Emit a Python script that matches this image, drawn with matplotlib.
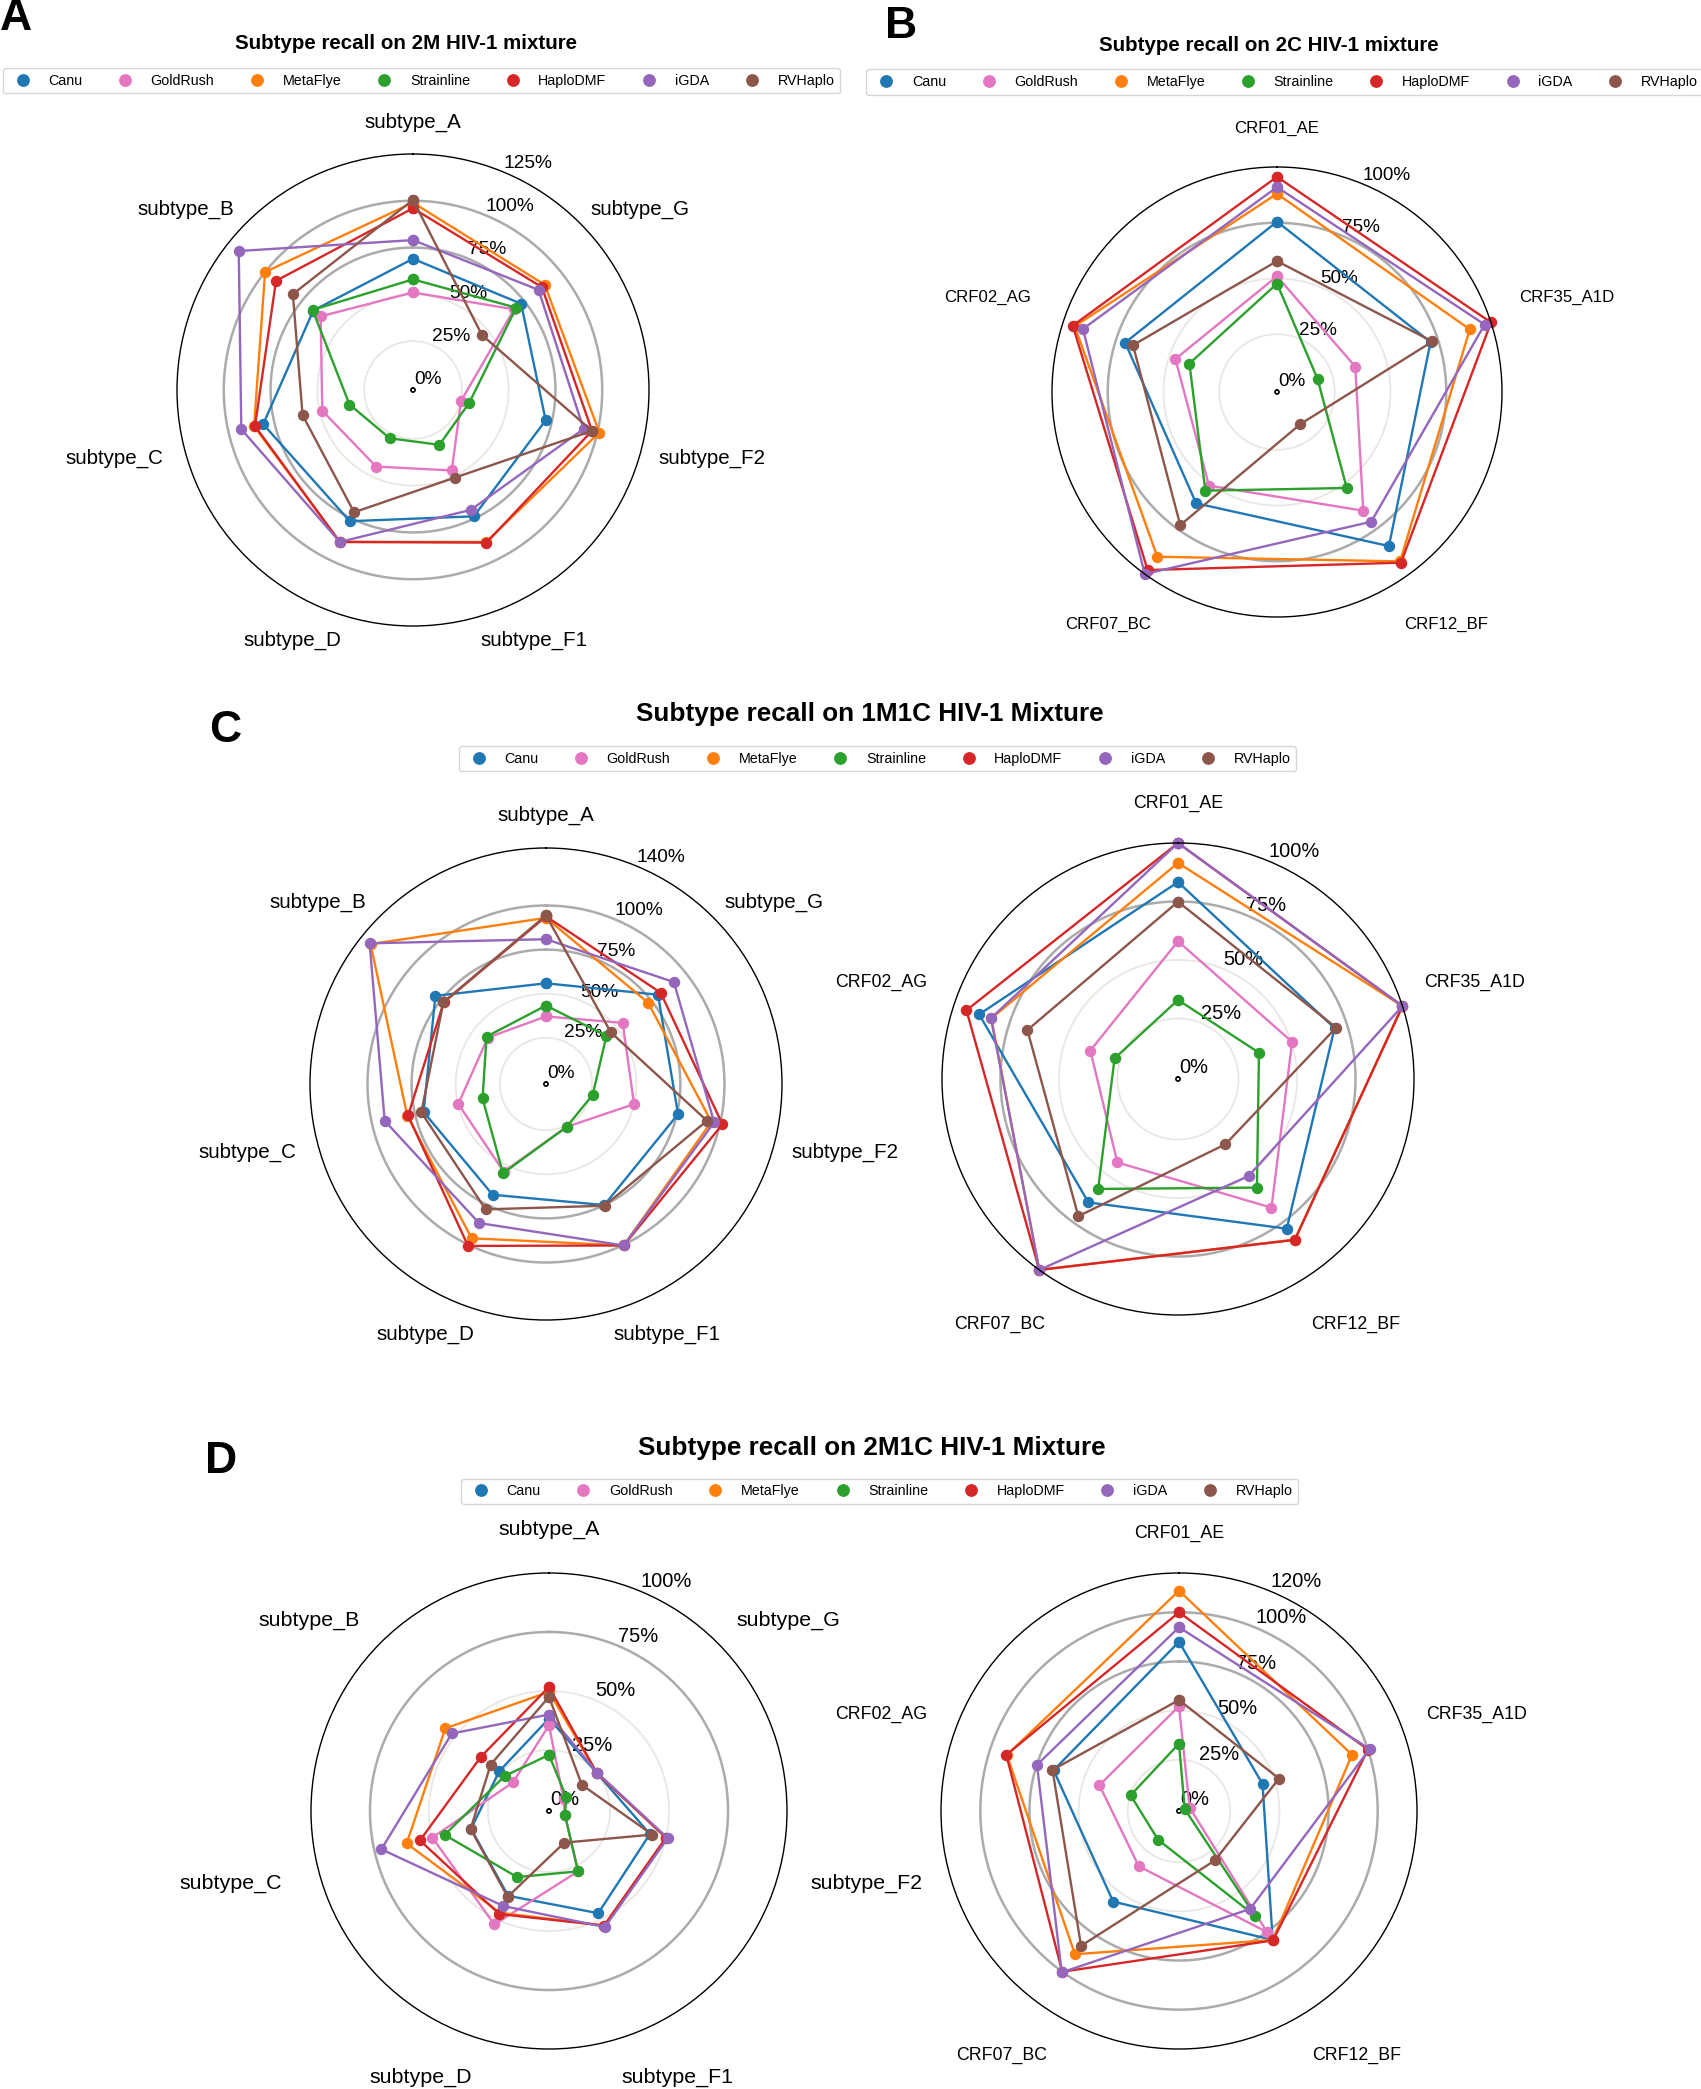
import numpy as np
import matplotlib
matplotlib.use("Agg")
import matplotlib.pyplot as plt
from matplotlib.lines import Line2D
from matplotlib.transforms import ScaledTranslation

plt.rcParams['font.family'] = ['Liberation Sans', 'DejaVu Sans']

W, H, DPI = 1701, 2089, 100

methods = ['Canu', 'GoldRush', 'MetaFlye', 'Strainline', 'HaploDMF', 'iGDA', 'RVHaplo']
colors = ['#1f77b4', '#e377c2', '#ff7f0e', '#2ca02c', '#d62728', '#9467bd', '#8c564b']

subtypes = ['subtype_A', 'subtype_B', 'subtype_C', 'subtype_D', 'subtype_F1', 'subtype_F2', 'subtype_G']
crfs = ['CRF01_AE', 'CRF02_AG', 'CRF07_BC', 'CRF12_BF', 'CRF35_A1D']

# recall (%) per method, in category order
recall_2M = {
    'Canu':       [69.0, 67.0, 81.0, 76.7, 73.8, 71.6, 72.8],
    'GoldRush':   [51.0, 62.0, 48.6, 44.3, 46.6, 25.2, 68.0],
    'MetaFlye':   [99.0, 100.0, 86.0, 89.0, 89.0, 101.0, 89.0],
    'Strainline': [58.0, 67.5, 33.7, 27.5, 31.4, 29.7, 69.4],
    'HaploDMF':   [96.0, 92.5, 85.5, 89.0, 89.4, 97.0, 87.0],
    'iGDA':       [79.0, 118.0, 93.0, 89.0, 70.0, 92.4, 84.7],
    'RVHaplo':    [100.5, 81.0, 59.4, 71.4, 50.8, 97.0, 46.0],
}
recall_2C = {
    'Canu':       [75.5, 70.7, 60.8, 84.5, 71.5],
    'GoldRush':   [51.0, 47.0, 51.0, 64.9, 36.0],
    'MetaFlye':   [88.0, 94.5, 90.4, 93.0, 90.0],
    'Strainline': [47.7, 40.4, 53.8, 52.3, 18.2],
    'HaploDMF':   [95.6, 95.4, 97.8, 93.7, 100.0],
    'iGDA':       [91.0, 90.6, 100.0, 71.0, 97.0],
    'RVHaplo':    [57.8, 67.0, 72.9, 16.9, 72.4],
}
recall_1M1C_sub = {
    'Canu':       [55.9, 79.0, 70.0, 68.5, 75.0, 75.6, 80.0],
    'GoldRush':   [37.1, 41.0, 49.8, 54.0, 25.8, 50.0, 54.4],
    'MetaFlye':   [93.0, 126.0, 79.5, 95.9, 100.4, 95.0, 72.8],
    'Strainline': [43.3, 41.9, 35.7, 55.0, 25.8, 26.0, 42.6],
    'HaploDMF':   [93.8, 73.0, 79.0, 100.7, 100.4, 101.4, 81.9],
    'iGDA':       [80.9, 126.7, 92.6, 86.3, 100.4, 96.6, 91.5],
    'RVHaplo':    [94.4, 73.2, 71.3, 77.7, 75.4, 92.4, 45.8],
}
recall_1M1C_crf = {
    'Canu':       [83.3, 88.5, 64.3, 78.2, 69.5],
    'GoldRush':   [58.0, 38.5, 43.2, 67.1, 50.4],
    'MetaFlye':   [91.5, 83.0, 100.0, 84.0, 100.0],
    'Strainline': [32.9, 27.6, 57.2, 56.5, 35.5],
    'HaploDMF':   [100.0, 94.2, 100.0, 84.1, 100.0],
    'iGDA':       [100.0, 83.2, 100.0, 50.4, 100.0],
    'RVHaplo':    [74.9, 66.8, 71.6, 33.6, 70.2],
}
recall_2M1C_sub = {
    'Canu':       [38.3, 26.1, 33.0, 39.0, 47.2, 43.0, 25.0],
    'GoldRush':   [35.5, 18.6, 49.8, 52.5, 27.5, 6.0, 7.0],
    'MetaFlye':   [49.6, 55.3, 61.0, 47.0, 53.0, 50.0, 25.0],
    'Strainline': [22.9, 23.0, 44.5, 30.2, 27.5, 6.0, 8.5],
    'HaploDMF':   [51.7, 36.0, 55.2, 47.6, 53.0, 50.0, 25.0],
    'iGDA':       [40.0, 51.8, 72.0, 43.8, 53.7, 50.7, 25.2],
    'RVHaplo':    [47.5, 30.7, 33.2, 39.5, 14.0, 44.0, 16.9],
}
recall_2M1C_crf = {
    'Canu':       [85.0, 66.0, 55.9, 80.0, 43.6],
    'GoldRush':   [52.2, 41.5, 33.7, 75.0, 4.6],
    'MetaFlye':   [111.0, 91.0, 89.0, 80.0, 91.5],
    'Strainline': [33.2, 24.8, 17.0, 65.0, 2.0],
    'HaploDMF':   [100.0, 91.3, 100.0, 80.3, 100.0],
    'iGDA':       [92.4, 74.9, 100.4, 60.5, 100.9],
    'RVHaplo':    [55.4, 66.6, 83.7, 30.0, 52.4],
}

fig = plt.figure(figsize=(W / DPI, H / DPI), dpi=DPI)


def radar(cx, cy, rpx, cats, data, rmax, outer_label, lab_a, lab_b, lab_d, cat_fs, tick_fs):
    rmin = -0.009 * rmax
    rect = [(cx - rpx) / W, 1 - (cy + rpx) / H, 2 * rpx / W, 2 * rpx / H]
    ax = fig.add_axes(rect, projection='polar')
    ax.set_theta_offset(np.pi / 2)
    ax.set_theta_direction(1)
    ax.set_ylim(rmin, rmax)
    ax.grid(False)
    ax.set_xticks([])
    ticks = [0, 0.25, 0.5, 0.75, 1.0]
    labels = ['0%', '25%', '50%', '75%', '100%']
    if rmax > 1.001:
        ticks.append(rmax)
        labels.append(outer_label)
    ax.set_yticks(ticks)
    ax.set_yticklabels(labels, fontsize=tick_fs)
    ax.set_rlabel_position(-22.5)
    ax.tick_params(axis='y', length=0, pad=0)
    ax.spines['polar'].set_color('black')
    ax.spines['polar'].set_linewidth(1.0)

    tt = np.linspace(0, 2 * np.pi, 400)
    for rv in [0.25, 0.5]:
        ax.plot(tt, np.full_like(tt, rv), color='#ebe6e1', lw=1.3, zorder=0.5)
    for rv in [0.75, 1.0]:
        if rv < rmax - 1e-6:
            ax.plot(tt, np.full_like(tt, rv), color='#ababab', lw=1.8, zorder=0.6)
    ax.plot(tt, np.zeros_like(tt), color='black', lw=1.2, zorder=0.7)

    n = len(cats)
    ang = np.linspace(0, 2 * np.pi, n, endpoint=False)
    ang_c = np.concatenate([ang, ang[:1]])
    for m, c in zip(methods, colors):
        v = np.array(data[m]) / 100.0
        v = np.concatenate([v, v[:1]])
        ax.plot(ang_c, v, color=c, lw=1.7, marker='o', ms=7.2, clip_on=False, zorder=2)

    for a, lab in zip(ang, cats):
        disp = a + np.pi / 2
        c, s = np.cos(disp), np.sin(disp)
        extra = lab_a + lab_b * c * c + (lab_d if s < -0.01 else 0)
        off = ScaledTranslation(extra * c / DPI, extra * s / DPI, fig.dpi_scale_trans)
        ax.text(a, rmax, lab, transform=ax.transData + off, ha='center', va='center',
                fontsize=cat_fs, clip_on=False)
    return ax


radar(413, 390, 236, subtypes, recall_2M, 1.25, '125%', 31.4, 37, 4, 14.8, 13.8)
radar(1277, 392, 225, crfs, recall_2C, 1.0, '100%', 38.4, 45.6, 8.5, 12.1, 13.6)
radar(546, 1084, 236, subtypes, recall_1M1C_sub, 1.326, '140%', 33, 37, 2, 14.8, 13.8)
radar(1178, 1079, 236, crfs, recall_1M1C_crf, 1.0, '100%', 40, 40, 13, 12.8, 14.4)
radar(549, 1811, 238, subtypes, recall_2M1C_sub, 1.0, '100%', 44, 40, 6, 15.4, 14.5)
radar(1179, 1811, 238, crfs, recall_2M1C_crf, 1.2, '120%', 40, 38.5, 11, 12.8, 14.4)

# titles
fig.text(405.5 / W, 1 - 43.3 / H, 'Subtype recall on 2M HIV-1 mixture', ha='center', va='center',
         fontsize=14.8, fontweight='bold')
fig.text(1269 / W, 1 - 45.5 / H, 'Subtype recall on 2C HIV-1 mixture', ha='center', va='center',
         fontsize=14.8, fontweight='bold')
fig.text(870 / W, 1 - 714.3 / H, 'Subtype recall on 1M1C HIV-1 Mixture', ha='center', va='center',
         fontsize=18.8, fontweight='bold')
fig.text(871.5 / W, 1 - 1447.8 / H, 'Subtype recall on 2M1C HIV-1 Mixture', ha='center', va='center',
         fontsize=18.8, fontweight='bold')

# panel letters
for lx, ly, t in [(0, 18.5, 'A'), (885, 26, 'B'), (209, 731, 'C'), (205, 1461.7, 'D')]:
    fig.text(lx / W, 1 - ly / H, t, ha='left', va='center', fontsize=32, fontweight='bold')

# legends
handles = [Line2D([0], [0], marker='o', linestyle='None', color=c, ms=8.2) for c in colors]
for lx, ly in [(2.7, 68), (866.3, 69.3), (458.7, 746), (461, 1478.5)]:
    fig.legend(handles, methods, loc='upper left', bbox_to_anchor=(lx / W, 1 - ly / H),
               ncol=7, fontsize=10.25, frameon=True, borderaxespad=0)

fig.savefig('out.png', dpi=DPI)
